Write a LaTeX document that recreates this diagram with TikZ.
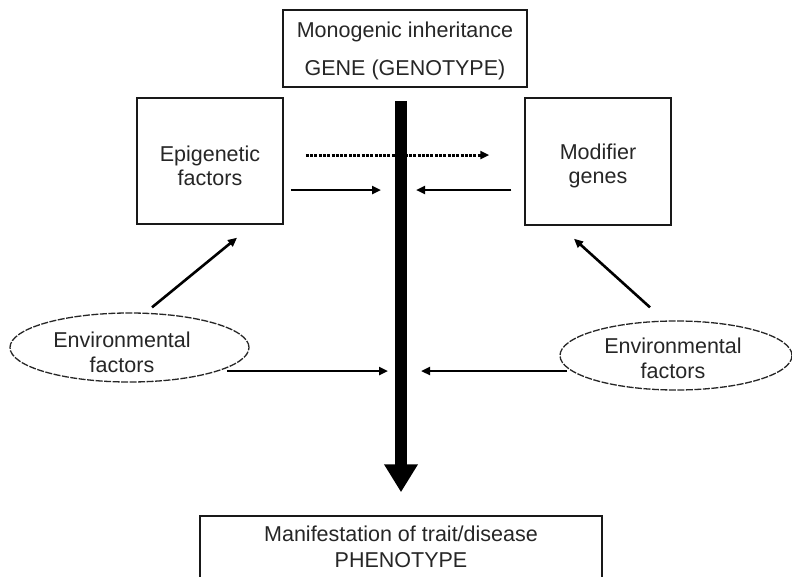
\documentclass[tikz,border=0pt]{standalone}
\usepackage{fontspec}
\setmainfont{Liberation Sans}
\usetikzlibrary{shapes.geometric,arrows.meta,calc}
\begin{document}
\begin{tikzpicture}[x=1pt,y=-1pt,
  txt/.style={font=\fontsize{21.5}{24}\selectfont, text=black!85, align=center},
  box/.style={draw=black!90, line width=1.5pt, rectangle, inner sep=0pt, txt},
  env/.style={draw=black!85, line width=1.3pt, dash pattern=on 7pt off 1.5pt, ellipse, inner sep=0pt},
  arr/.style={line width=2.6pt, -{Triangle[length=9pt,width=8pt]}},
  dasharr/.style={line width=3pt, dash pattern=on 3pt off 1.3pt, -{Triangle[length=9pt,width=8pt]}},
  bigarr/.style={line width=12pt, -{Triangle[length=28pt,width=32pt]}}
]
\useasboundingbox (0,0) rectangle (792,576);
\clip (0,0) rectangle (792,576);
\fill[white] (0,0) rectangle (792,576);

\node[box, minimum width=244pt, minimum height=77pt] (top) at (405,48.5)
  {\rule{0pt}{21pt}Monogenic inheritance\\[14pt]GENE (GENOTYPE)\rule[-6pt]{0pt}{0pt}};
\node[box, minimum width=146pt, minimum height=126pt] (epi) at (210,161)
  {\rule{0pt}{30pt}Epigenetic\\factors\rule[-6pt]{0pt}{0pt}};
\node[box, minimum width=146pt, minimum height=127pt] (mod) at (598,161.5)
  {\rule{0pt}{25pt}Modifier\\genes\rule[-6pt]{0pt}{0pt}};
\node[box, minimum width=402pt, minimum height=80pt] (bot) at (401,556)
  {\rule{0pt}{16pt}Manifestation of trait/disease\\[2pt]PHENOTYPE\rule[-20pt]{0pt}{0pt}};

\node[env, minimum width=239pt, minimum height=69pt,
  label={[txt, xshift=-7.5pt, yshift=-7.25pt]center:\rule{0pt}{16pt}Environmental\\[1.5pt]factors\rule[-6pt]{0pt}{0pt}}]
  (envL) at (129.5,347.5) {};
\node[env, minimum width=232pt, minimum height=69pt,
  label={[txt, xshift=-3pt, yshift=-5.25pt]center:\rule{0pt}{16pt}Environmental\\[1.5pt]factors\rule[-6pt]{0pt}{0pt}}]
  (envR) at (676,355.5) {};

\coordinate (p1) at (381,190);
\coordinate (p2) at (416,190);
\coordinate (p3) at (388,371);
\coordinate (p4) at (421,371);

\draw[bigarr, shorten <=13pt, shorten >=23pt] (top.south -| bot.north) -- (bot.north);

\draw[dasharr] ($(epi.east)+(22,-6)$) -- ($(mod.west)+(-35,-6.5)$);
\draw[arr] ($(epi.east)+(7,29)$) -- (p1);
\draw[arr] ($(mod.west)+(-13,28.5)$) -- (p2);
\draw[arr] ($(envL.center)+(97.5,23.5)$) -- (p3);
\draw[arr] ($(envR.center)+(-109,15.5)$) -- (p4);
\draw[arr] ($(envL.north)+(22.5,-5)$) -- ($(epi.south)+(27,13)$);
\draw[arr] ($(envR.north)+(-26,-13)$) -- ($(mod.south)+(-24,13)$);
\end{tikzpicture}
\end{document}
